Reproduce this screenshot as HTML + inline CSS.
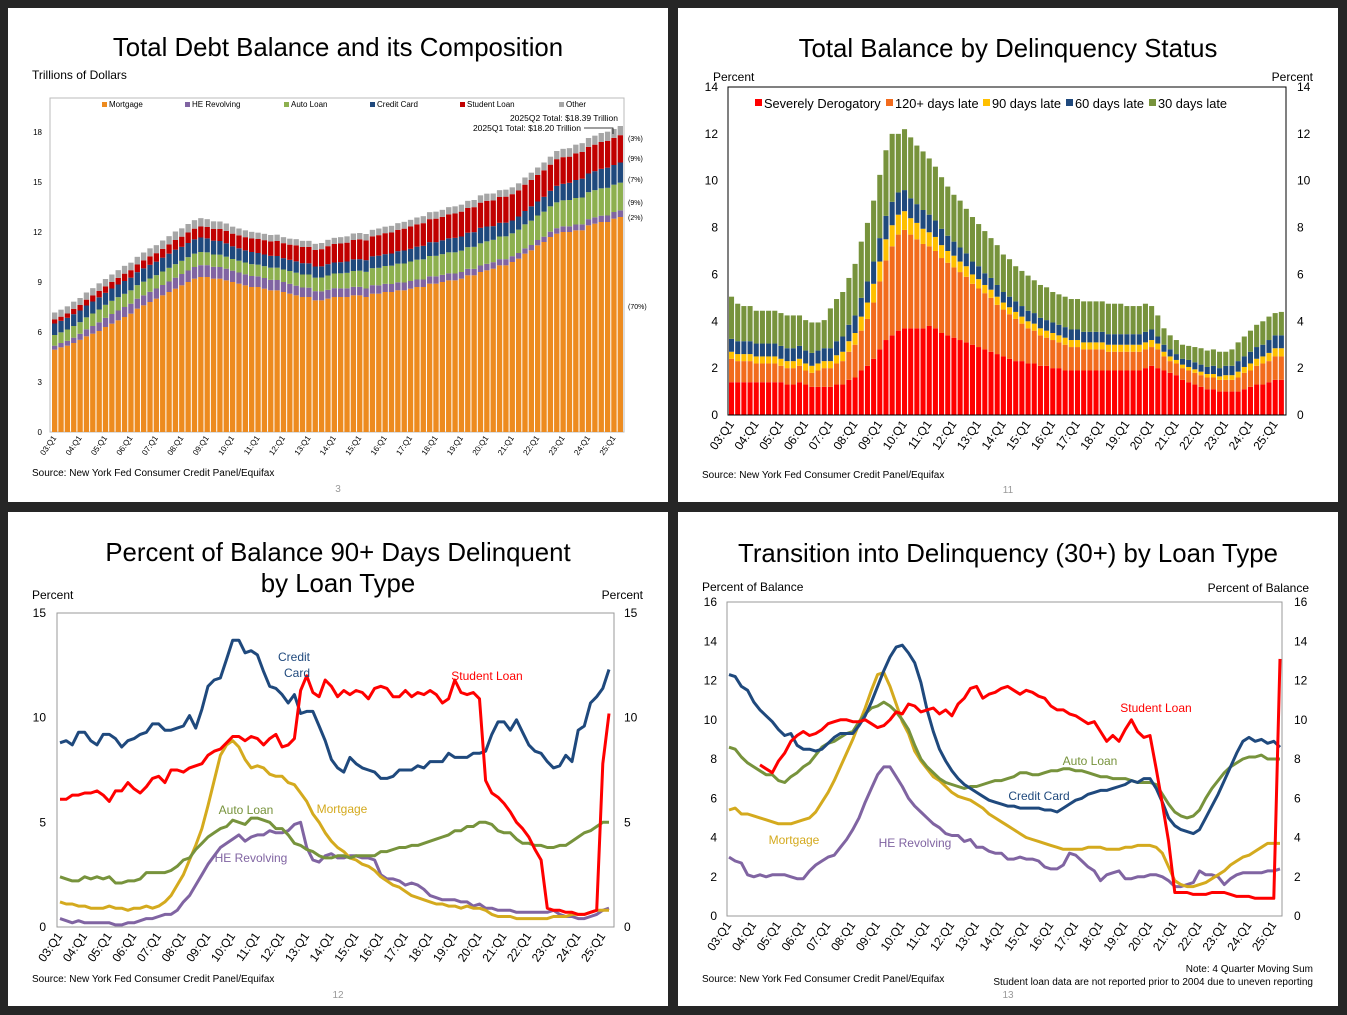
<!DOCTYPE html>
<html><head><meta charset="utf-8"><style>
html,body{margin:0;padding:0;background:#262626;}
svg{display:block;font-family:"Liberation Sans",Arial,sans-serif;}
</style></head><body>
<svg id="s" width="1347" height="1015" viewBox="0 0 1347 1015" xmlns="http://www.w3.org/2000/svg">
<rect x="0" y="0" width="1347" height="1015" fill="#262626"/>
<g>
<rect x="8" y="8" width="660" height="494" fill="#fff"/>
<text x="338" y="56" font-size="25.8" text-anchor="middle">Total Debt Balance and its Composition</text>
<text x="32" y="79" font-size="12">Trillions of Dollars</text>
<rect x="50" y="98" width="574" height="334" fill="none" stroke="#bbb" stroke-width="1"/>
<g id="g1"></g>
<g font-size="8">
<rect x="102" y="102" width="5" height="5" fill="#ED8B1F"/><text x="109" y="107">Mortgage</text>
<rect x="185" y="102" width="5" height="5" fill="#8064A2"/><text x="192" y="107">HE Revolving</text>
<rect x="284" y="102" width="5" height="5" fill="#8DB04F"/><text x="291" y="107">Auto Loan</text>
<rect x="370" y="102" width="5" height="5" fill="#1F497D"/><text x="377" y="107">Credit Card</text>
<rect x="460" y="102" width="5" height="5" fill="#C00000"/><text x="467" y="107">Student Loan</text>
<rect x="559" y="102" width="5" height="5" fill="#A6A6A6"/><text x="566" y="107">Other</text>
</g>
<text x="618" y="121" font-size="8.5" text-anchor="end">2025Q2 Total: $18.39 Trillion</text>
<text x="581" y="131" font-size="8.5" text-anchor="end">2025Q1 Total: $18.20 Trillion</text>
<polyline points="584,128 613,128 613,134" fill="none" stroke="#000" stroke-width="0.8"/>
<g font-size="7">
<text x="628" y="141">(3%)</text>
<text x="628" y="161">(9%)</text>
<text x="628" y="182">(7%)</text>
<text x="628" y="205">(9%)</text>
<text x="628" y="220">(2%)</text>
<text x="628" y="309">(70%)</text>
</g>
<text x="32" y="476" font-size="10">Source: New York Fed Consumer Credit Panel/Equifax</text>
<text x="338" y="492" font-size="10" fill="#999" text-anchor="middle">3</text>
</g>

<g>
<rect x="678" y="8" width="660" height="494" fill="#fff"/>
<text x="1008" y="57" font-size="25.8" text-anchor="middle">Total Balance by Delinquency Status</text>
<text x="713" y="81" font-size="12">Percent</text>
<text x="1313" y="81" font-size="12" text-anchor="end">Percent</text>
<g id="g2"></g>
<rect x="728" y="87" width="558" height="328" fill="none" stroke="#000" stroke-width="1"/>
<g font-size="12.8">
<rect x="755" y="99" width="7" height="7" fill="#FF0000"/><text x="764" y="108">Severely Derogatory</text>
<rect x="886" y="99" width="7" height="7" fill="#F26B1D"/><text x="895" y="108">120+ days late</text>
<rect x="983" y="99" width="7" height="7" fill="#FFC000"/><text x="992" y="108">90 days late</text>
<rect x="1066" y="99" width="7" height="7" fill="#1F497D"/><text x="1075" y="108">60 days late</text>
<rect x="1149" y="99" width="7" height="7" fill="#77933C"/><text x="1158" y="108">30 days late</text>
</g>
<text x="702" y="478" font-size="10">Source: New York Fed Consumer Credit Panel/Equifax</text>
<text x="1008" y="493" font-size="10" fill="#999" text-anchor="middle">11</text>
</g>

<g>
<rect x="8" y="512" width="660" height="494" fill="#fff"/>
<text x="338" y="561" font-size="25.8" text-anchor="middle">Percent of Balance 90+ Days Delinquent</text>
<text x="338" y="592" font-size="25.8" text-anchor="middle">by Loan Type</text>
<text x="32" y="599" font-size="12">Percent</text>
<text x="643" y="599" font-size="12" text-anchor="end">Percent</text>
<rect x="57" y="613" width="557" height="314" fill="none" stroke="#999" stroke-width="1"/>
<g id="g3"></g>
<g font-size="12">
<text x="294" y="661" fill="#1F497D" text-anchor="middle">Credit</text>
<text x="297" y="677" fill="#1F497D" text-anchor="middle">Card</text>
<text x="487" y="680" fill="#FF0000" text-anchor="middle">Student Loan</text>
<text x="342" y="813" fill="#D4AA1E" text-anchor="middle">Mortgage</text>
<text x="246" y="814" fill="#77933C" text-anchor="middle">Auto Loan</text>
<text x="251" y="862" fill="#8064A2" text-anchor="middle">HE Revolving</text>
</g>
<text x="32" y="982" font-size="10">Source: New York Fed Consumer Credit Panel/Equifax</text>
<text x="338" y="998" font-size="10" fill="#999" text-anchor="middle">12</text>
</g>

<g>
<rect x="678" y="512" width="660" height="494" fill="#fff"/>
<text x="1008" y="562" font-size="25.8" text-anchor="middle">Transition into Delinquency (30+) by Loan Type</text>
<text x="702" y="591" font-size="12">Percent of Balance</text>
<text x="1309" y="592" font-size="12" text-anchor="end">Percent of Balance</text>
<rect x="727" y="602" width="555" height="314" fill="none" stroke="#999" stroke-width="1"/>
<g id="g4"></g>
<g font-size="12">
<text x="1156" y="712" fill="#FF0000" text-anchor="middle">Student Loan</text>
<text x="1090" y="765" fill="#77933C" text-anchor="middle">Auto Loan</text>
<text x="1039" y="800" fill="#1F497D" text-anchor="middle">Credit Card</text>
<text x="794" y="844" fill="#D4AA1E" text-anchor="middle">Mortgage</text>
<text x="915" y="847" fill="#8064A2" text-anchor="middle">HE Revolving</text>
</g>
<text x="702" y="982" font-size="10">Source: New York Fed Consumer Credit Panel/Equifax</text>
<text x="1313" y="972" font-size="10" text-anchor="end">Note: 4 Quarter Moving Sum</text>
<text x="1313" y="985" font-size="10" text-anchor="end">Student loan data are not reported prior to 2004 due to uneven reporting</text>
<text x="1008" y="998" font-size="10" fill="#999" text-anchor="middle">13</text>
</g>
</svg>
<script>
const tickLabels = ['03:Q1','04:Q1','05:Q1','06:Q1','07:Q1','08:Q1','09:Q1','10:Q1','11:Q1','12:Q1','13:Q1','14:Q1','15:Q1','16:Q1','17:Q1','18:Q1','19:Q1','20:Q1','21:Q1','22:Q1','23:Q1','24:Q1','25:Q1'];
// Chart 1 (trillions)
const mortgage1 = [4.94,5.08,5.18,5.34,5.53,5.74,5.9,6.06,6.3,6.5,6.7,6.9,7.1,7.4,7.6,7.8,8.0,8.2,8.4,8.6,8.8,9.0,9.2,9.3,9.3,9.2,9.2,9.1,9.0,8.9,8.8,8.7,8.7,8.6,8.5,8.5,8.4,8.3,8.2,8.1,8.1,7.9,7.9,8.0,8.1,8.1,8.1,8.2,8.2,8.1,8.3,8.3,8.4,8.4,8.5,8.5,8.6,8.7,8.7,8.9,8.9,9.0,9.1,9.1,9.2,9.4,9.4,9.6,9.7,9.8,10.0,10.0,10.2,10.4,10.7,10.9,11.2,11.4,11.7,11.9,12.0,12.0,12.1,12.1,12.4,12.5,12.6,12.6,12.8,12.9];
const heRevolving1 = [.24,.26,.29,.32,.36,.42,.46,.52,.55,.58,.59,.60,.60,.60,.60,.61,.61,.62,.63,.66,.68,.69,.70,.71,.71,.71,.70,.70,.68,.67,.66,.66,.64,.64,.63,.62,.60,.59,.58,.57,.56,.55,.54,.53,.53,.52,.52,.51,.51,.51,.51,.50,.49,.48,.48,.47,.46,.45,.45,.44,.44,.43,.42,.41,.40,.39,.39,.39,.39,.39,.37,.37,.35,.34,.32,.32,.32,.32,.32,.33,.34,.34,.35,.36,.37,.38,.38,.39,.40,.40];
const autoLoan1 = [.64,.64,.68,.70,.70,.72,.75,.77,.78,.79,.80,.79,.80,.81,.82,.80,.80,.81,.82,.81,.79,.80,.80,.79,.77,.74,.74,.72,.70,.71,.71,.71,.70,.71,.73,.74,.75,.77,.78,.78,.79,.81,.83,.86,.88,.90,.93,.95,.97,1.0,1.02,1.05,1.07,1.1,1.12,1.14,1.17,1.19,1.21,1.22,1.23,1.24,1.26,1.27,1.28,1.30,1.32,1.33,1.35,1.34,1.36,1.37,1.37,1.40,1.44,1.46,1.47,1.50,1.52,1.55,1.56,1.58,1.59,1.61,1.62,1.63,1.64,1.66,1.64,1.66];
const creditCard1 = [.69,.69,.70,.71,.70,.71,.72,.73,.72,.74,.76,.77,.76,.78,.80,.82,.81,.83,.85,.87,.84,.85,.86,.87,.84,.83,.82,.80,.76,.74,.73,.73,.70,.70,.71,.70,.68,.67,.68,.68,.67,.67,.67,.68,.66,.67,.68,.70,.69,.70,.71,.73,.71,.73,.75,.78,.76,.78,.81,.83,.82,.83,.84,.87,.85,.87,.88,.93,.89,.82,.82,.82,.77,.79,.80,.86,.84,.89,.93,.99,.99,1.03,1.08,1.13,1.12,1.14,1.17,1.21,1.18,1.21];
const studentLoan1 = [.24,.25,.26,.32,.33,.35,.36,.39,.39,.39,.40,.44,.45,.46,.48,.51,.51,.53,.55,.58,.61,.63,.64,.66,.68,.70,.72,.75,.76,.78,.79,.81,.84,.86,.87,.90,.90,.91,.96,.97,.99,.99,1.03,1.08,1.11,1.12,1.13,1.16,1.19,1.19,1.20,1.23,1.26,1.26,1.28,1.31,1.34,1.34,1.36,1.38,1.41,1.41,1.44,1.46,1.49,1.48,1.50,1.51,1.54,1.54,1.55,1.56,1.58,1.57,1.58,1.58,1.59,1.59,1.57,1.60,1.60,1.57,1.60,1.60,1.60,1.59,1.61,1.61,1.63,1.64];
const other1 = [.42,.42,.43,.43,.42,.43,.44,.45,.44,.45,.46,.47,.45,.46,.47,.48,.48,.50,.50,.51,.50,.51,.51,.50,.47,.46,.45,.44,.42,.41,.41,.40,.38,.38,.38,.38,.36,.36,.37,.37,.36,.37,.37,.38,.37,.38,.38,.39,.38,.38,.39,.40,.39,.40,.40,.41,.40,.41,.42,.42,.42,.42,.43,.43,.42,.43,.43,.44,.43,.42,.41,.42,.41,.42,.43,.44,.45,.47,.48,.49,.50,.51,.52,.53,.53,.54,.54,.55,.53,.55];
const yTicks1 = [0,3,6,9,12,15,18];
// Chart 2 (percent)
const severe2 = [1.4,1.4,1.4,1.4,1.4,1.4,1.4,1.4,1.4,1.3,1.3,1.4,1.3,1.2,1.2,1.2,1.2,1.3,1.3,1.5,1.6,1.9,2.1,2.4,2.8,3.2,3.4,3.6,3.7,3.7,3.7,3.7,3.8,3.7,3.5,3.4,3.3,3.2,3.1,3.0,2.9,2.8,2.7,2.6,2.5,2.4,2.3,2.3,2.2,2.2,2.1,2.1,2.0,2.0,1.9,1.9,1.9,1.9,1.9,1.9,1.9,1.9,1.9,1.9,1.9,1.9,1.9,2.0,2.1,2.0,1.9,1.8,1.7,1.5,1.4,1.3,1.2,1.1,1.1,1.0,1.0,1.0,1.0,1.1,1.2,1.3,1.3,1.4,1.5,1.5];
const late120 = [1.0,0.9,0.9,0.9,0.8,0.8,0.8,0.8,0.7,0.7,0.7,0.7,0.6,0.6,0.7,0.8,0.8,0.9,1.0,1.2,1.4,1.7,2.0,2.4,2.9,3.4,3.8,4.1,4.2,4.0,3.8,3.6,3.4,3.3,3.2,3.1,3.0,2.9,2.8,2.6,2.5,2.4,2.3,2.1,2.0,1.9,1.8,1.6,1.5,1.4,1.3,1.2,1.2,1.1,1.1,1.0,1.0,0.9,0.9,0.9,0.9,0.8,0.8,0.8,0.8,0.8,0.8,0.8,0.8,0.8,0.6,0.5,0.5,0.5,0.5,0.5,0.5,0.5,0.5,0.5,0.5,0.5,0.6,0.7,0.7,0.8,0.9,0.9,1.0,1.0];
const late90 = [.3,.3,.3,.3,.3,.3,.3,.3,.3,.3,.3,.3,.3,.3,.3,.3,.3,.35,.4,.45,.5,.6,.7,.8,.85,.9,.9,.85,.8,.7,.7,.65,.6,.6,.55,.5,.5,.45,.45,.4,.4,.35,.35,.35,.3,.3,.3,.3,.3,.3,.3,.3,.3,.3,.3,.3,.3,.3,.3,.3,.3,.3,.3,.3,.3,.3,.3,.3,.3,.25,.2,.2,.15,.15,.15,.15,.15,.15,.15,.15,.2,.2,.25,.25,.3,.3,.3,.35,.35,.35];
const late60 = [.55,.55,.55,.55,.55,.55,.55,.55,.55,.55,.55,.55,.55,.55,.55,.55,.55,.6,.65,.7,.75,.8,.9,.95,1.0,1.0,1.0,.95,.9,.85,.8,.8,.75,.7,.7,.65,.6,.6,.55,.55,.55,.5,.5,.5,.45,.45,.45,.45,.45,.45,.45,.45,.45,.45,.45,.45,.45,.45,.45,.45,.45,.45,.45,.45,.45,.45,.45,.45,.45,.3,.3,.3,.25,.25,.3,.3,.3,.3,.35,.35,.4,.4,.45,.45,.5,.5,.5,.55,.55,.55];
const late30 = [1.8,1.6,1.5,1.5,1.4,1.4,1.4,1.4,1.4,1.4,1.4,1.3,1.3,1.3,1.2,1.2,1.7,1.8,1.9,2.0,2.2,2.4,2.5,2.6,2.7,2.8,2.9,2.5,2.6,2.6,2.5,2.5,2.4,2.3,2.2,2.1,2.0,2.0,1.9,1.9,1.8,1.8,1.7,1.7,1.6,1.6,1.5,1.5,1.5,1.4,1.4,1.4,1.3,1.3,1.3,1.3,1.3,1.3,1.3,1.3,1.3,1.3,1.3,1.3,1.2,1.2,1.2,1.2,1.0,0.9,0.7,0.6,0.6,0.6,0.6,0.65,0.7,0.7,0.7,0.7,0.6,0.7,0.8,0.85,0.9,0.95,1.0,1.0,0.95,1.0];
const yTicks2 = [0,2,4,6,8,10,12,14];
// Chart 3 (percent 90+)
const creditCard3 = [8.8,8.9,8.7,9.3,9.3,8.9,8.7,9.2,9.2,9.0,8.6,8.9,9.0,9.2,9.3,9.7,9.7,9.4,9.4,9.5,9.6,10.1,9.5,10.4,11.5,11.8,11.9,12.8,13.7,13.7,13.1,13.2,13.0,12.2,11.5,11.4,11.1,10.7,11.1,10.2,10.3,10.3,9.6,8.9,8.0,7.6,7.4,8.1,7.8,7.6,7.5,7.4,7.1,7.1,7.2,7.5,7.5,7.5,7.7,7.6,7.9,7.9,7.9,8.3,8.1,8.1,8.1,8.3,8.3,8.4,9.2,9.8,9.8,9.4,9.9,9.3,8.7,8.4,8.3,7.9,7.6,7.7,8.2,7.9,9.4,9.6,10.7,11.0,11.4,12.3];
const studentLoan3 = [6.1,6.1,6.3,6.3,6.4,6.4,6.5,6.3,6.0,6.5,6.5,6.9,6.6,6.4,6.7,7.1,7.2,6.9,7.5,7.5,7.4,7.6,7.7,7.8,8.2,8.4,8.5,8.8,9.1,9.1,8.9,9.1,9.0,8.7,9.0,9.2,8.6,8.7,9.0,11.3,12.0,11.2,11.0,11.8,11.5,11.0,11.3,11.1,11.3,11.2,10.9,11.4,11.5,11.4,11.0,11.0,11.3,11.0,11.2,11.1,11.3,11.1,10.7,10.9,11.8,11.2,11.1,11.2,10.9,7.0,6.4,6.2,5.9,5.5,5.0,4.7,4.3,3.7,3.2,0.9,0.8,0.8,0.7,0.7,0.6,0.6,0.7,0.8,7.8,10.2];
const autoLoan3 = [2.4,2.3,2.2,2.2,2.4,2.3,2.4,2.3,2.4,2.1,2.1,2.2,2.2,2.3,2.6,2.6,2.6,2.6,2.7,2.9,3.2,3.3,3.7,4.0,4.3,4.5,4.7,4.8,5.1,5.0,4.9,5.2,5.2,5.1,5.0,4.7,4.7,4.4,4.0,3.9,3.7,3.6,3.4,3.3,3.3,3.4,3.4,3.3,3.4,3.4,3.4,3.4,3.6,3.6,3.7,3.8,3.8,3.9,3.9,4.0,4.1,4.2,4.3,4.4,4.6,4.6,4.8,4.8,5.0,5.0,4.9,4.6,4.5,4.5,4.2,4.0,4.0,3.9,3.9,3.8,3.8,3.9,3.9,4.1,4.3,4.5,4.6,4.8,5.0,5.0];
const mortgage3 = [1.2,1.1,1.1,1.0,1.0,0.9,0.9,0.9,1.0,0.9,0.9,0.8,0.9,0.9,1.0,0.9,1.0,1.2,1.5,2.0,2.5,3.2,3.9,4.7,5.8,7.0,8.2,8.7,8.9,8.6,8.0,7.6,7.7,7.6,7.3,7.2,7.2,6.9,6.8,6.4,6.0,5.4,5.0,4.5,4.1,3.8,3.6,3.3,3.2,3.0,2.9,2.7,2.4,2.2,2.0,1.9,1.7,1.5,1.4,1.3,1.2,1.1,1.1,1.0,1.0,0.9,1.0,0.9,0.9,0.8,0.6,0.5,0.5,0.5,0.4,0.4,0.4,0.4,0.4,0.4,0.5,0.5,0.5,0.6,0.6,0.6,0.7,0.8,0.8,0.8];
const heRevolving3 = [0.4,0.3,0.2,0.3,0.2,0.2,0.2,0.2,0.2,0.1,0.1,0.2,0.2,0.3,0.4,0.4,0.5,0.6,0.6,0.8,1.2,1.5,2.0,2.5,3.0,3.4,3.8,4.0,4.2,4.4,4.1,4.3,4.4,4.4,4.6,4.5,4.5,4.6,4.9,5.0,3.8,3.2,3.1,3.4,3.5,3.3,3.3,3.4,3.4,3.3,3.3,3.2,2.5,2.3,2.3,2.2,2.0,2.1,2.0,1.8,1.5,1.4,1.3,1.3,1.3,1.2,1.2,1.0,1.1,0.9,0.9,0.8,0.8,0.8,0.7,0.7,0.7,0.7,0.7,0.7,0.8,0.6,0.5,0.5,0.4,0.4,0.5,0.6,0.8,0.9];
const yTicks3 = [0,5,10,15];
// Chart 4 (percent transition 30+)
const creditCard4 = [12.3,12.2,11.7,11.5,10.9,10.5,10.2,9.9,9.5,9.2,9.3,8.7,8.5,8.5,8.4,8.5,8.8,9.1,9.3,9.3,9.3,9.7,10.2,10.9,11.7,12.5,13.2,13.7,13.8,13.4,12.9,11.9,10.5,9.4,8.5,7.9,7.4,7.0,6.7,6.5,6.3,6.1,5.9,5.8,5.7,5.6,5.6,5.5,5.5,5.5,5.5,5.4,5.4,5.3,5.5,5.7,5.9,6.0,6.2,6.3,6.4,6.4,6.5,6.6,6.7,6.9,6.8,7.0,7.0,6.5,5.8,5.0,4.6,4.4,4.3,4.2,4.4,5.0,5.6,6.2,6.9,7.6,8.3,8.9,9.1,8.9,9.0,8.8,8.9,8.6];
const studentLoan4 = [null,null,null,null,null,7.7,7.5,7.3,7.9,8.3,8.9,9.2,9.4,9.2,9.3,9.5,9.8,9.9,10.0,10.0,9.9,9.9,10.0,9.8,9.6,9.7,10.0,10.4,10.3,10.8,10.7,10.4,10.5,10.6,10.3,10.5,10.2,10.8,11.1,11.6,11.7,11.1,11.3,11.4,11.6,11.7,11.5,11.3,11.5,11.4,11.2,11.1,10.7,10.5,10.5,10.3,10.2,10.0,9.8,9.9,9.4,8.9,9.2,8.9,9.5,10.0,9.4,9.1,9.2,7.5,5.7,3.8,1.2,1.2,1.2,1.1,1.1,1.1,1.2,1.2,1.2,1.1,1.0,1.0,1.0,0.9,0.9,0.9,0.9,13.1];
const autoLoan4 = [8.6,8.5,8.1,7.8,7.6,7.4,7.2,7.2,6.9,6.8,7.1,7.3,7.6,7.8,8.2,8.6,8.8,8.9,9.1,9.3,9.4,9.9,10.3,10.6,10.7,10.9,10.7,10.4,10.0,9.5,8.7,8.0,7.6,7.3,7.0,6.8,6.7,6.6,6.5,6.6,6.6,6.7,6.8,6.9,6.9,7.0,7.1,7.3,7.3,7.2,7.2,7.3,7.4,7.4,7.5,7.5,7.4,7.4,7.3,7.2,7.1,7.1,7.0,7.0,7.0,6.9,6.8,6.8,6.8,6.7,6.2,5.7,5.3,5.1,5.0,5.1,5.4,6.0,6.5,6.9,7.3,7.6,7.8,8.0,8.1,8.1,8.2,8.0,8.0,8.0];
const mortgage4 = [5.4,5.5,5.2,5.2,5.1,5.0,4.9,4.8,4.7,4.7,4.7,4.8,4.9,5.0,5.3,5.8,6.3,6.9,7.6,8.3,9.0,9.8,10.6,11.5,12.3,12.4,11.7,10.8,9.9,9.3,8.4,7.9,7.5,7.1,6.9,6.6,6.3,6.1,6.0,5.9,5.7,5.5,5.2,5.0,4.8,4.6,4.4,4.2,4.0,3.9,3.8,3.7,3.6,3.5,3.4,3.4,3.4,3.4,3.5,3.5,3.5,3.4,3.4,3.4,3.5,3.5,3.6,3.6,3.6,3.5,3.2,2.5,1.8,1.6,1.5,1.5,1.6,1.7,1.9,2.1,2.3,2.6,2.8,3.0,3.1,3.3,3.5,3.7,3.7,3.7];
const heRevolving4 = [3.0,2.8,2.7,2.1,2.0,2.1,2.0,2.1,2.1,2.1,2.0,1.9,1.9,2.3,2.6,2.8,3.0,3.1,3.5,3.9,4.4,5.0,5.8,6.5,7.2,7.6,7.6,7.1,6.6,6.0,5.6,5.3,5.0,4.7,4.5,4.2,4.1,4.1,3.8,3.9,3.5,3.5,3.3,3.2,3.2,2.9,2.9,3.0,2.9,2.9,2.8,2.5,2.4,2.4,2.6,3.2,3.1,2.8,2.5,2.3,1.8,2.1,2.2,2.3,1.9,1.9,2.0,2.0,2.1,2.1,2.0,1.8,1.5,1.5,1.6,1.7,2.3,2.1,2.1,2.0,1.6,1.9,2.1,2.2,2.2,2.2,2.2,2.3,2.3,2.4];
const yTicks4 = [0,2,4,6,8,10,12,14,16];

const NS='http://www.w3.org/2000/svg';
function mk(parent, tag, attrs){const e=document.createElementNS(NS,tag);for(const k in attrs)e.setAttribute(k,attrs[k]);parent.appendChild(e);return e;}
const N = mortgage1.length;

// ---- Chart 1
(function(){
  const g=document.getElementById('g1');
  const x0=52, step=(624-52)/N, bw=step*0.84;
  const y=v=>432-v*(300/18);
  const series=[[mortgage1,'#ED8B1F','mortgage'],[heRevolving1,'#8064A2','he-revolving'],[autoLoan1,'#8DB04F','auto-loan'],[creditCard1,'#1F497D','credit-card'],[studentLoan1,'#C00000','student-loan'],[other1,'#A6A6A6','other']];
  for(let i=0;i<N;i++){
    let base=0;
    for(const [arr,col,nm] of series){
      const r=mk(g,'rect',{x:x0+i*step,y:y(base+arr[i]),width:bw,height:arr[i]*300/18,fill:col});
      
      
      base+=arr[i];
    }
  }
  for(const t of yTicks1){
    const tx=mk(g,'text',{x:42,y:y(t)+3,'font-size':8,'text-anchor':'end'});tx.textContent=t;
    
    
  }
  tickLabels.forEach((lb,k)=>{
    const cx=x0+k*4*step+bw/2+2;
    const tx=mk(g,'text',{x:cx,y:438,'font-size':8,'text-anchor':'end',transform:`rotate(-55 ${cx} 438)`});tx.textContent=lb;
    
    
  });
})();

// ---- Chart 2
(function(){
  const g=document.getElementById('g2');
  const x0=729, step=(1285-729)/N, bw=step*0.82;
  const y=v=>415-v*(328/14);
  const series=[[severe2,'#FF0000','severely-derogatory'],[late120,'#F26B1D','120-days-late'],[late90,'#FFC000','90-days-late'],[late60,'#1F497D','60-days-late'],[late30,'#77933C','30-days-late']];
  for(let i=0;i<N;i++){
    let base=0;
    for(const [arr,col,nm] of series){
      const r=mk(g,'rect',{x:x0+i*step,y:y(base+arr[i]),width:bw,height:arr[i]*328/14,fill:col});
      
      
      base+=arr[i];
    }
  }
  for(const t of yTicks2){
    const a=mk(g,'text',{x:718,y:y(t)+4,'font-size':12,'text-anchor':'end'});a.textContent=t;
    
    
    const b=mk(g,'text',{x:1297,y:y(t)+4,'font-size':12,'text-anchor':'start'});b.textContent=t;
    
    
  }
  tickLabels.forEach((lb,k)=>{
    const cx=x0+k*4*step+bw/2+3;
    const tx=mk(g,'text',{x:cx,y:424,'font-size':12,'text-anchor':'end',transform:`rotate(-55 ${cx} 424)`});tx.textContent=lb;
    
    
  });
})();

function lineChart(gid,x0,x1,yb,yt,ymax,ticks,series,lx,rx,labY){
  const g=document.getElementById(gid);
  const step=(x1-x0)/(N-1);
  const y=v=>yb-v*((yb-yt)/ymax);
  for(const t of ticks){
    const a=mk(g,'text',{x:lx,y:y(t)+4,'font-size':12,'text-anchor':'end'});a.textContent=t;
    
    
    const b=mk(g,'text',{x:rx,y:y(t)+4,'font-size':12,'text-anchor':'start'});b.textContent=t;
    
    
  }
  for(const [arr,col,nm] of series){
    let d='',pen=false;
    arr.forEach((v,i)=>{ if(v===null){pen=false;return;} d+=(pen?'L':'M')+(x0+i*step).toFixed(1)+','+y(v).toFixed(1); pen=true;});
    const p=mk(g,'path',{d:d,fill:'none',stroke:col,'stroke-width':3,'stroke-linejoin':'round'});
    
    
  }
  tickLabels.forEach((lb,k)=>{
    const cx=x0+k*4*step+3;
    const tx=mk(g,'text',{x:cx,y:labY,'font-size':12,'text-anchor':'end',transform:`rotate(-55 ${cx} ${labY})`});tx.textContent=lb;
    
    
  });
}
lineChart('g3',60,609,927,613,15,yTicks3,[[heRevolving3,'#8064A2','he-revolving'],[mortgage3,'#D4AA1E','mortgage'],[autoLoan3,'#77933C','auto-loan'],[creditCard3,'#1F497D','credit-card'],[studentLoan3,'#FF0000','student-loan']],46,624,936);
lineChart('g4',729,1280,916,602,16,yTicks4,[[heRevolving4,'#8064A2','he-revolving'],[mortgage4,'#D4AA1E','mortgage'],[autoLoan4,'#77933C','auto-loan'],[creditCard4,'#1F497D','credit-card'],[studentLoan4,'#FF0000','student-loan']],717,1294,925);
</script>
</body></html>
